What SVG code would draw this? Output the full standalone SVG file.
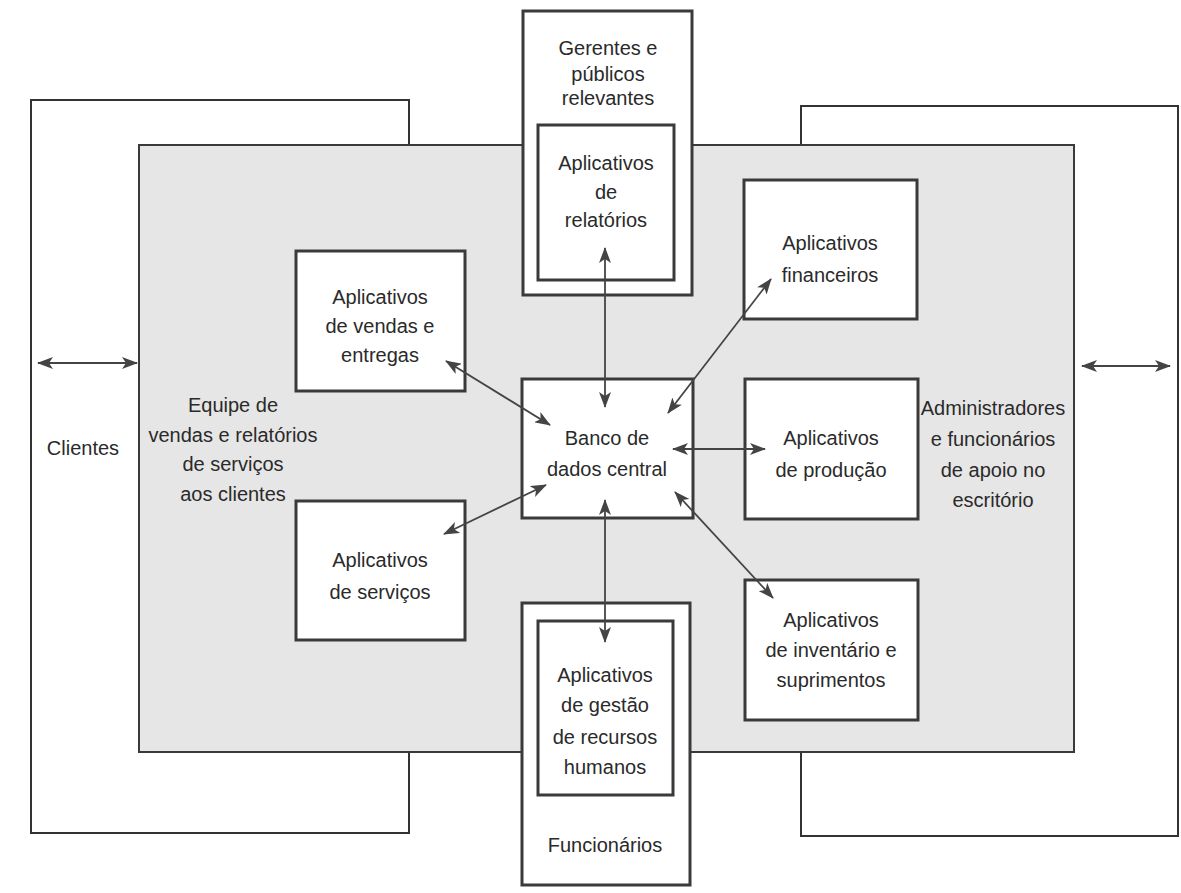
<svg xmlns="http://www.w3.org/2000/svg" width="1181" height="893" viewBox="0 0 1181 893">
<defs>
<style>
.frame{fill:none;stroke:#333;stroke-width:2}
.shade{fill:#e6e6e6;stroke:#3a3a3a;stroke-width:2}
.box{fill:#fff;stroke:#3a3a3a;stroke-width:3}
.t{font-family:"Liberation Sans",Arial,sans-serif;font-size:20px;fill:#2a2a2a;text-anchor:middle}
.c{stroke:#444;stroke-width:1.8;fill:none;marker-start:url(#ah);marker-end:url(#ah)}
</style>
<marker id="ah" viewBox="0 0 16 12" refX="15" refY="6" markerWidth="16" markerHeight="12" markerUnits="userSpaceOnUse" orient="auto-start-reverse">
<path d="M0,0 L16,6 L0,12 L4,6 z" fill="#444"/>
</marker>
</defs>
<rect width="1181" height="893" fill="#fff"/>
<g id="clientes-frame">
<rect class="frame" x="31" y="100" width="378" height="733"/>
<text class="t" x="83" y="455">Clientes</text>
</g>
<g id="admin-frame">
<rect class="frame" x="801" y="106" width="377" height="730"/>
</g>
<g id="area">
<rect class="shade" x="139" y="145" width="935" height="607"/>
<text class="t" x="233" y="412">Equipe de</text>
<text class="t" x="233" y="442">vendas e relatórios</text>
<text class="t" x="233" y="471">de serviços</text>
<text class="t" x="233" y="501">aos clientes</text>
<text class="t" x="993" y="415">Administradores</text>
<text class="t" x="993" y="446">e funcionários</text>
<text class="t" x="993" y="477">de apoio no</text>
<text class="t" x="993" y="507">escritório</text>
</g>
<g id="gerentes">
<rect class="box" x="523" y="11" width="169" height="284"/>
<text class="t" x="608" y="55">Gerentes e</text>
<text class="t" x="608" y="81">públicos</text>
<text class="t" x="608" y="105">relevantes</text>
<rect class="box" x="538" y="125" width="136" height="155"/>
<text class="t" x="606" y="170">Aplicativos</text>
<text class="t" x="606" y="199">de</text>
<text class="t" x="606" y="227">relatórios</text>
</g>
<g id="funcionarios">
<rect class="box" x="522" y="603" width="168" height="282"/>
<rect class="box" x="538" y="621" width="135" height="174"/>
<text class="t" x="605" y="682">Aplicativos</text>
<text class="t" x="605" y="712">de gestão</text>
<text class="t" x="605" y="744">de recursos</text>
<text class="t" x="605" y="774">humanos</text>
<text class="t" x="605" y="852">Funcionários</text>
</g>
<g id="vendas">
<rect class="box" x="296" y="251" width="169" height="140"/>
<text class="t" x="380" y="304">Aplicativos</text>
<text class="t" x="380" y="333">de vendas e</text>
<text class="t" x="380" y="362">entregas</text>
</g>
<g id="servicos">
<rect class="box" x="296" y="501" width="169" height="139"/>
<text class="t" x="380" y="567">Aplicativos</text>
<text class="t" x="380" y="599">de serviços</text>
</g>
<g id="banco">
<rect class="box" x="522" y="379" width="171" height="139"/>
<text class="t" x="607" y="445">Banco de</text>
<text class="t" x="607" y="476">dados central</text>
</g>
<g id="financeiros">
<rect class="box" x="744" y="180" width="173" height="139"/>
<text class="t" x="830" y="250">Aplicativos</text>
<text class="t" x="830" y="282">financeiros</text>
</g>
<g id="producao">
<rect class="box" x="745" y="379" width="173" height="140"/>
<text class="t" x="831" y="445">Aplicativos</text>
<text class="t" x="831" y="477">de produção</text>
</g>
<g id="inventario">
<rect class="box" x="745" y="580" width="173" height="140"/>
<text class="t" x="831" y="627">Aplicativos</text>
<text class="t" x="831" y="657">de inventário e</text>
<text class="t" x="831" y="687">suprimentos</text>
</g>
<g id="connectors">
<line class="c" x1="38" y1="363" x2="137" y2="363"/>
<line class="c" x1="1082" y1="366" x2="1170" y2="366"/>
<line class="c" x1="605" y1="248" x2="605" y2="407"/>
<line class="c" x1="605" y1="500" x2="605" y2="642"/>
<line class="c" x1="446" y1="361" x2="550" y2="425"/>
<line class="c" x1="444" y1="534" x2="546" y2="485"/>
<line class="c" x1="771" y1="279" x2="668" y2="413"/>
<line class="c" x1="673" y1="449" x2="765" y2="449"/>
<line class="c" x1="675" y1="492" x2="773" y2="598"/>
</g>
</svg>
